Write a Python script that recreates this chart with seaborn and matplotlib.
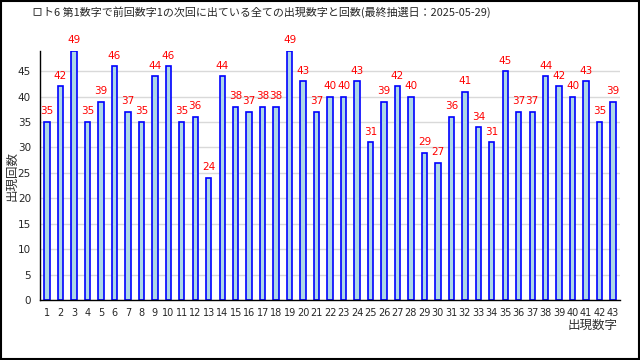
#!/usr/bin/env python3

import matplotlib
matplotlib.use("Agg")
import matplotlib.pyplot as plt
from matplotlib.patches import Rectangle
import seaborn as sns
import pandas

# numbers drawn next time after number 1, and how often
numbers = list(range(1, 44))
counts = [35, 42, 49, 35, 39, 46, 37, 35, 44, 46,
          35, 36, 24, 44, 38, 37, 38, 38, 49, 43,
          37, 40, 40, 43, 31, 39, 42, 40, 29, 27,
          36, 41, 34, 31, 45, 37, 37, 44, 42, 40,
          43, 35, 39]
yticks = list(range(0, 50, 5))

title = "ロト6 第1数字で前回数字1の次回に出ている全ての出現数字と回数(最終抽選日：2025-05-29)"
xlabel = "出現数字"
ylabel = "出現回数"

sns.set_style("white")
plt.rcParams["font.family"] = ["Noto Sans CJK JP", "DejaVu Sans"]


def main():
    df = pandas.DataFrame({"number": numbers, "count": counts})

    fig = plt.figure(figsize=(6.4, 3.6), dpi=100)
    ax = fig.add_axes([0.0625, 0.1667, 0.906, 0.692])

    sns.barplot(data=df, x="number", y="count", native_scale=True, width=0.4,
                color="#add8e6", edgecolor="blue", linewidth=1.2, saturation=1, ax=ax)

    for n, c in zip(numbers, counts):
        ax.annotate(str(c), (n, c), xytext=(0, 4), textcoords="offset points",
                    ha="center", va="bottom", color="red", fontsize=7.5,
                    family="DejaVu Sans")

    ax.set_xlim(0.48, 43.37)
    ax.set_ylim(0, 49)
    ax.set_yticks(yticks)
    ax.set_xticks(numbers)
    ax.set_xticks([n + 0.5 for n in range(0, 44)], minor=True)
    ax.tick_params(axis="x", which="major", length=0, labelsize=7, pad=6)
    ax.tick_params(axis="x", which="minor", length=3, width=0.8, direction="in")
    ax.tick_params(axis="y", length=3, width=0.8, labelsize=7.5)
    for lab in ax.get_xticklabels() + ax.get_yticklabels():
        lab.set_family("DejaVu Sans")
    ax.yaxis.grid(True, color="#d9d9d9", linewidth=1)
    ax.set_axisbelow(True)
    ax.set_xlabel("")
    ax.set_ylabel("")
    for side in ["top", "right"]:
        ax.spines[side].set_visible(False)
    for side in ["left", "bottom"]:
        ax.spines[side].set_color("black")
        ax.spines[side].set_linewidth(1)

    fig.text(0.05, 0.965, title, ha="left", va="center", fontsize=7.9)
    fig.text(0.965, 0.097, xlabel, ha="right", va="center", fontsize=9, color="#333333")
    fig.text(0.018, 0.51, ylabel, ha="center", va="center", fontsize=9,
             rotation=90, color="#333333")

    fig.patches.append(Rectangle((0.001, 0.002), 0.997, 0.995, transform=fig.transFigure,
                                 fill=False, edgecolor="black", linewidth=1.5))

    fig.savefig("out.png", dpi=100)
    plt.close(fig)


if __name__ == "__main__":
    main()
